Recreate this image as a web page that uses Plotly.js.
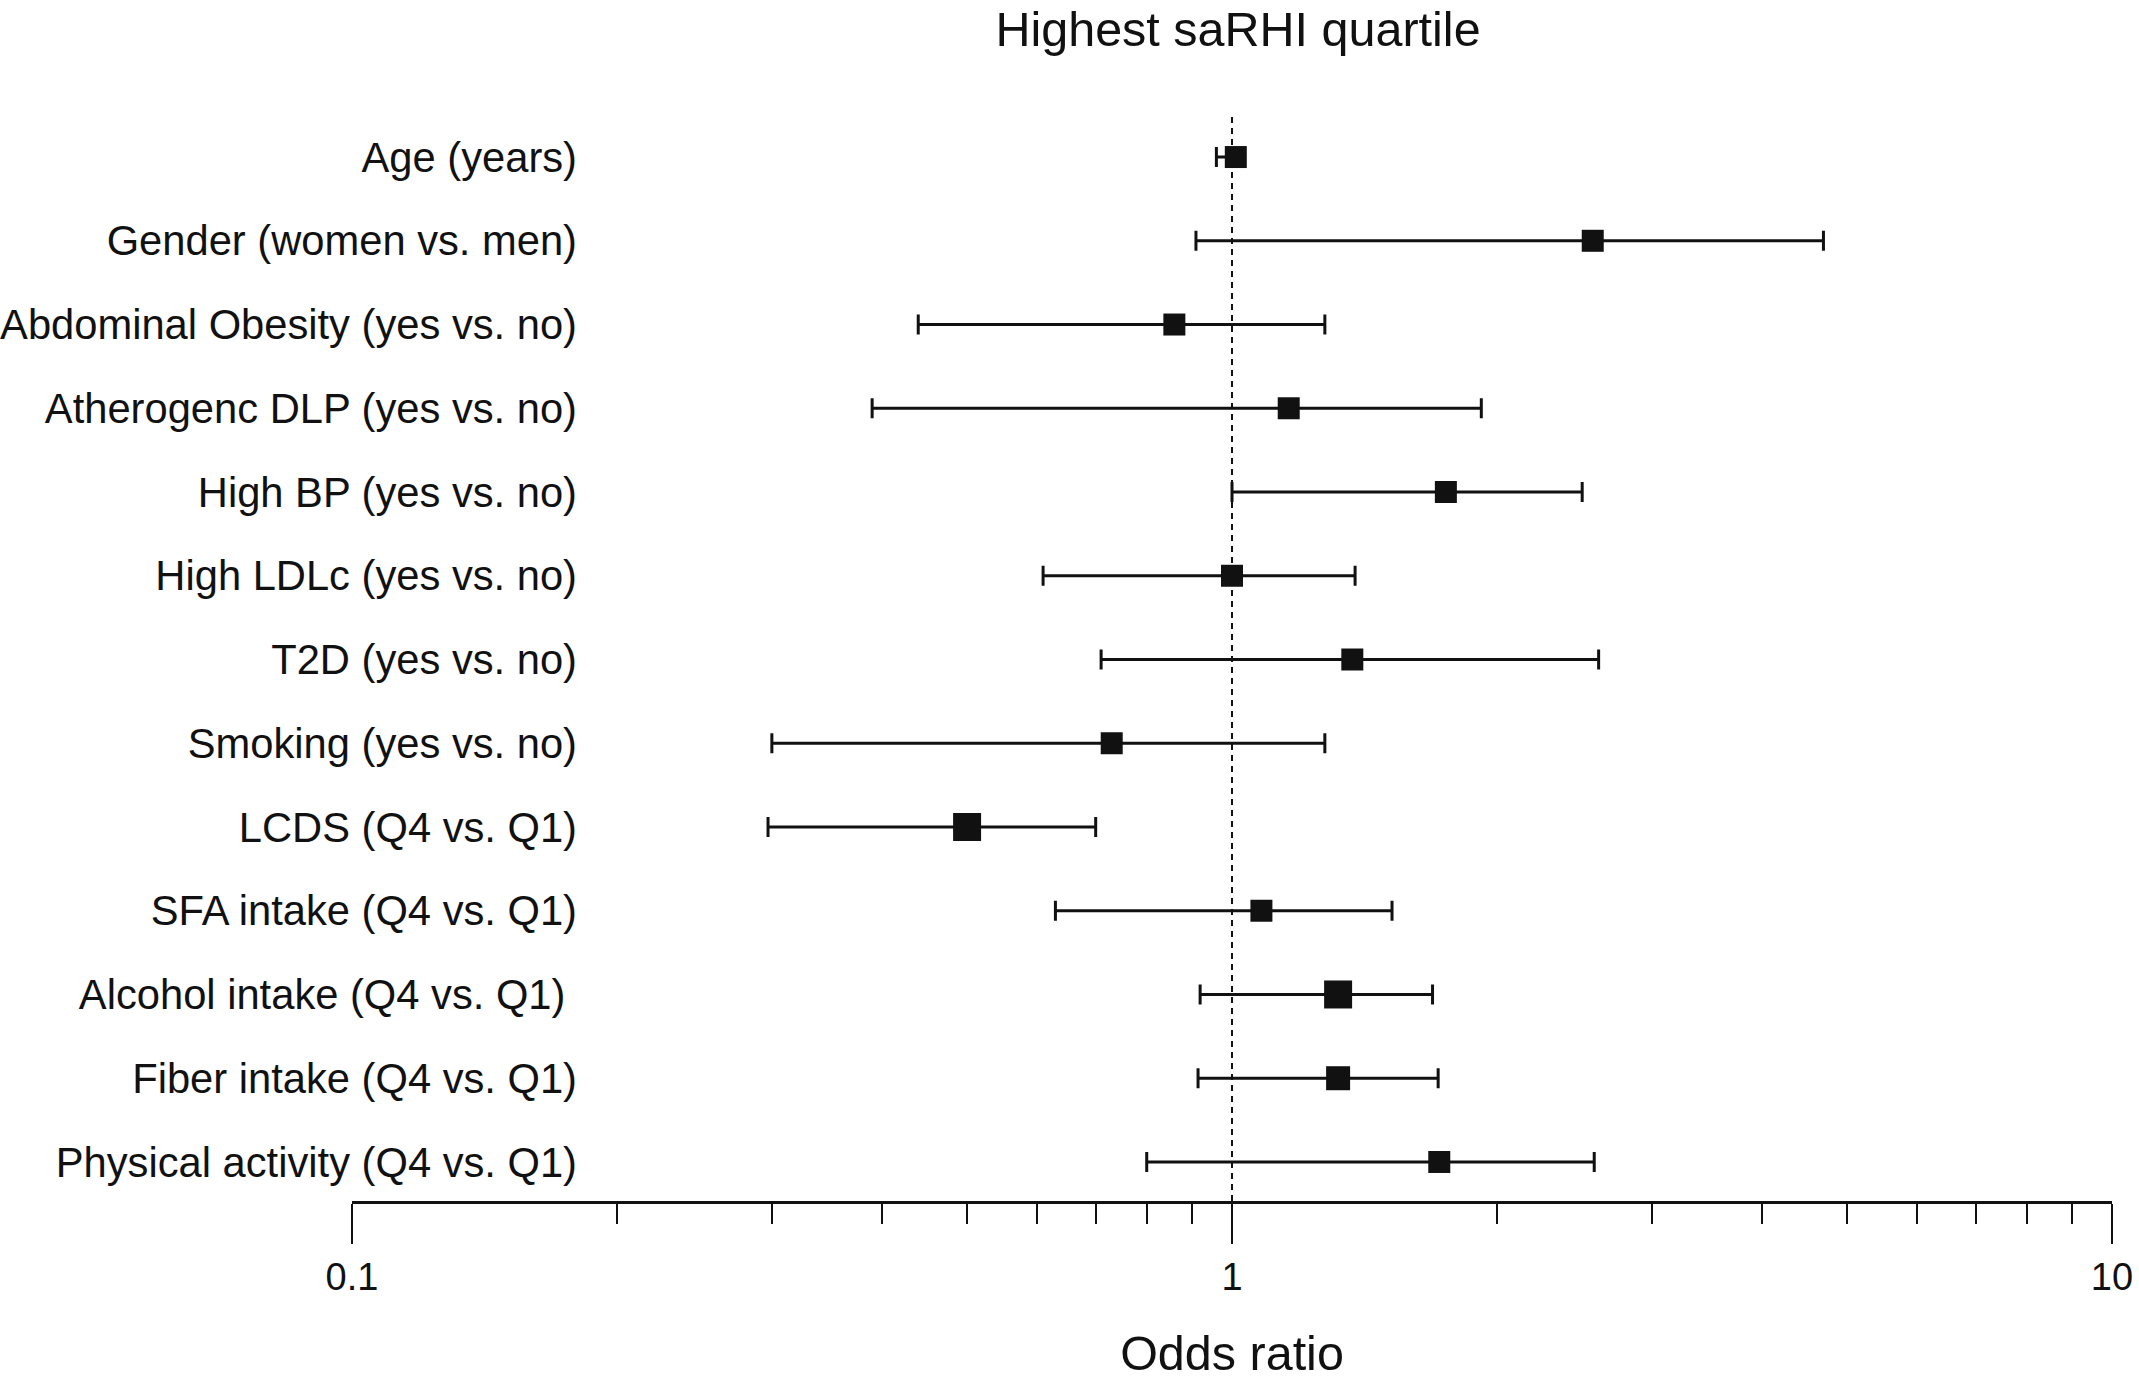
<!DOCTYPE html>
<html>
<head>
<meta charset="utf-8">
<script src="https://cdn.plot.ly/plotly-3.0.1.min.js"></script>
<style>
  html, body { margin: 0; padding: 0; background: #fff; }
  #chart { width: 2139px; height: 1382px; }
</style>
</head>
<body>
<div id="chart"></div>
<script>
// Categories (top to bottom)
const categories = [
  "Age (years)",
  "Gender (women vs. men)",
  "Abdominal Obesity (yes vs. no)",
  "Atherogenc DLP (yes vs. no)",
  "High BP (yes vs. no)",
  "High LDLc (yes vs. no)",
  "T2D (yes vs. no)",
  "Smoking (yes vs. no)",
  "LCDS (Q4 vs. Q1)",
  "SFA intake (Q4 vs. Q1)",
  "Alcohol intake (Q4 vs. Q1) ",
  "Fiber intake (Q4 vs. Q1)",
  "Physical activity (Q4 vs. Q1)"
];
// Odds ratios and 95% CI bounds
const oddsRatio = [1.01, 2.57, 0.86, 1.16, 1.75, 1.00, 1.37, 0.73, 0.50, 1.08, 1.32, 1.32, 1.72];
const ciLower   = [0.96, 0.91, 0.44, 0.39, 1.00, 0.61, 0.71, 0.30, 0.297, 0.63, 0.92, 0.915, 0.80];
const ciUpper   = [1.03, 4.70, 1.275, 1.92, 2.50, 1.38, 2.61, 1.275, 0.70, 1.52, 1.69, 1.715, 2.58];
// Relative weights reflected in marker size
const markerSizes = [22, 22, 22, 22, 22, 22, 22, 22, 28, 22, 28, 24, 22];

const majorTicks = [0.1, 1, 10];
const majorTickText = ["0.1", "1", "10"];
const minorTicks = [0.2, 0.3, 0.4, 0.5, 0.6, 0.7, 0.8, 0.9, 2, 3, 4, 5, 6, 7, 8, 9];

const rowIdx = categories.map((_, i) => i);
const FONT = "'Liberation Sans', Arial, Helvetica, sans-serif";
const INK = "#111111";

const trace = {
  type: "scatter",
  mode: "markers",
  x: oddsRatio,
  y: rowIdx,
  marker: { symbol: "square", size: markerSizes, color: INK, opacity: 1, line: { width: 0 } },
  error_x: {
    type: "data",
    symmetric: false,
    array: oddsRatio.map((v, i) => ciUpper[i] - v),
    arrayminus: oddsRatio.map((v, i) => v - ciLower[i]),
    color: INK,
    thickness: 3,
    width: 10
  },
  hoverinfo: "x+text",
  text: categories,
  showlegend: false,
  cliponaxis: false
};

const ML = 352, MR = 27, MT = 116, MB = 181, W = 2139, H = 1382;
const plotW = W - ML - MR;

const layout = {
  width: W,
  height: H,
  margin: { l: ML, r: MR, t: MT, b: MB, pad: 0 },
  paper_bgcolor: "#ffffff",
  plot_bgcolor: "#ffffff",
  font: { family: FONT, color: INK },
  title: {
    text: "Highest saRHI quartile",
    font: { family: FONT, size: 48.5, color: INK },
    x: 1238 / W,
    xanchor: "center",
    xref: "container",
    y: 1 - 29 / H,
    yanchor: "middle",
    yref: "container"
  },
  xaxis: {
    type: "log",
    range: [-1, 1],
    showgrid: false,
    zeroline: false,
    showline: true,
    linecolor: INK,
    linewidth: 3,
    ticks: "outside",
    ticklen: 40,
    tickwidth: 2,
    tickcolor: INK,
    tickmode: "array",
    tickvals: majorTicks,
    ticktext: majorTickText,
    tickfont: { family: FONT, size: 38, color: INK },
    minor: {
      tickmode: "array",
      tickvals: minorTicks,
      ticks: "outside",
      ticklen: 20,
      tickwidth: 2,
      tickcolor: INK,
      showgrid: false
    },
    title: {
      text: "Odds ratio",
      font: { family: FONT, size: 48.5, color: INK },
      standoff: 40
    },
    automargin: false,
    fixedrange: true
  },
  yaxis: {
    range: [12.466, -0.49],
    anchor: "free",
    position: (577 - ML) / plotW,
    showgrid: false,
    zeroline: false,
    showline: false,
    ticks: "",
    tickmode: "array",
    tickvals: rowIdx,
    ticktext: categories,
    tickfont: { family: FONT, size: 41.7, color: INK },
    automargin: false,
    fixedrange: true
  },
  shapes: [
    {
      type: "line",
      xref: "x",
      yref: "paper",
      x0: 1, x1: 1,
      y0: 0, y1: 1,
      line: { color: INK, width: 2, dash: "6px,5px" },
      layer: "below"
    }
  ]
};

Plotly.newPlot("chart", [trace], layout, { displayModeBar: false, staticPlot: true });
</script>
</body>
</html>
